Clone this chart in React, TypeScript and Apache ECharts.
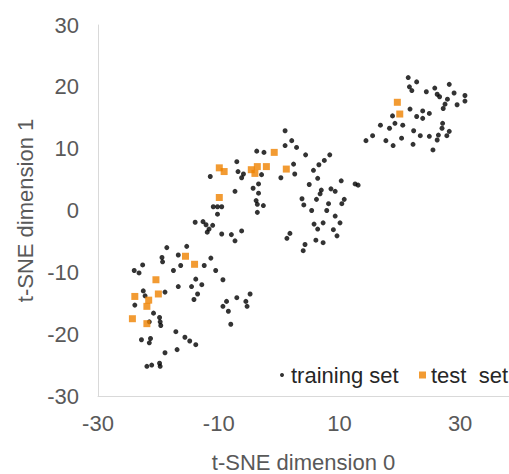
import React, { useEffect, useRef } from "react";
import * as echarts from "echarts";

// t-SNE embedding, grouped by cluster for readability
const trainingLowerLeft: number[][] = [
  [-18.6, -6.0], [-15.3, -5.8], [-19.4, -7.6], [-19.3, -8.3], [-16.7, -7.2], [-22.6, -8.8],
  [-24.0, -9.7], [-23.2, -10.1], [-17.5, -9.7], [-16.3, -8.9], [-12.4, -8.9], [-11.3, -7.7],
  [-10.5, -9.7], [-9.3, -11.2], [-13.8, -11.1], [-14.5, -12.3], [-12.8, -12.0], [-16.7, -12.3],
  [-13.5, -13.5], [-14.1, -14.4], [-22.5, -13.0], [-22.2, -13.8], [-18.9, -13.2], [-23.9, -15.3],
  [-20.8, -16.6], [-19.8, -17.3], [-19.7, -18.0], [-19.6, -18.6], [-21.5, -18.0], [-7.0, -14.1],
  [-4.8, -13.5], [-5.5, -14.7], [-5.3, -15.5], [-8.7, -14.7], [-9.3, -15.5], [-8.4, -16.3],
  [-8.0, -18.4], [-17.1, -19.6], [-15.6, -20.5], [-14.8, -21.1], [-13.8, -21.7], [-16.9, -22.5],
  [-18.9, -23.0], [-22.8, -20.9], [-21.3, -20.7], [-21.5, -21.4], [-21.9, -25.2], [-21.1, -25.0],
  [-19.8, -24.7], [-19.7, -25.2],
];

const trainingCentre: number[][] = [
  [1.0, 12.9], [2.1, 11.3], [2.9, 10.2], [1.0, 10.5], [-3.7, 9.6], [-2.5, 9.4], [-7.0, 7.9],
  [-6.8, 6.3], [-5.9, 5.9], [-6.2, 5.3], [-11.4, 5.5], [-2.9, 5.8], [2.4, 7.5], [2.6, 5.9],
  [0.3, 5.3], [5.0, 4.2], [-3.4, 4.3], [-4.3, 3.6], [-3.4, 2.8], [-7.3, 3.1], [-10.9, 0.6],
  [-10.2, 0.6], [-9.5, 0.6], [-10.2, -0.6], [-3.8, 1.6], [-3.6, 1.0], [-2.6, 0.8], [-3.6, -0.3],
  [3.8, 1.9], [4.1, 0.9], [-13.9, -1.9], [-12.6, -1.8], [-12.1, -2.3], [-11.0, -2.4],
  [-11.6, -3.0], [-11.9, -3.5], [-9.5, -3.8], [-7.9, -3.9], [-7.3, -4.9], [-6.2, -3.3],
  [1.3, -4.5], [1.8, -3.7], [4.3, -5.5],
];

const trainingRight: number[][] = [
  [4.4, 9.0], [8.4, 9.0], [7.5, 8.1], [6.6, 7.4], [5.7, 6.5], [6.4, 5.2], [10.3, 4.8],
  [12.6, 4.3], [13.1, 4.1], [7.0, 3.3], [6.8, 2.7], [8.6, 3.5], [9.3, 3.1], [6.2, 1.8],
  [5.4, 0.0], [8.2, 1.1], [7.9, 0.0], [10.8, 1.8], [10.4, 1.1], [9.3, -0.9], [10.1, -2.0],
  [5.8, -2.2], [6.4, -3.0], [7.3, -2.0], [9.0, -3.1], [9.6, -4.1], [6.1, -4.8], [7.3, -5.2],
  [4.0, -6.5],
];

const trainingUpperRight: number[][] = [
  [21.4, 21.5], [22.8, 20.8], [21.6, 20.0], [22.0, 19.4], [24.4, 19.2], [25.8, 19.8],
  [28.2, 20.4], [26.2, 18.8], [26.6, 18.4], [29.0, 19.0], [30.8, 18.6], [30.8, 17.7],
  [27.9, 18.0], [27.5, 17.2], [29.5, 17.1], [27.2, 16.5], [21.7, 16.4], [23.8, 16.1],
  [24.9, 15.7], [22.8, 15.2], [23.8, 14.9], [18.8, 15.3], [27.1, 14.1], [27.0, 13.3],
  [28.2, 12.8], [27.8, 12.1], [26.4, 12.2], [26.2, 11.4], [24.9, 12.0], [23.4, 12.1],
  [22.3, 12.9], [20.5, 13.8], [19.2, 14.1], [18.3, 13.3], [16.8, 13.8], [15.5, 12.1],
  [14.4, 11.3], [17.7, 11.3], [18.9, 10.5], [20.3, 11.7], [22.2, 10.7], [25.5, 9.8],
];

const testPoints: number[][] = [
  [-15.5, -7.4], [-14.0, -8.7], [-20.4, -11.2], [-23.9, -13.9], [-21.6, -14.5], [-20.0, -13.5],
  [-21.9, -15.5], [-24.3, -17.5], [-21.9, -18.3], [-0.8, 9.4], [-9.9, 6.9], [-9.1, 6.3],
  [-4.6, 6.6], [-3.6, 7.1], [-4.0, 6.0], [-2.1, 7.1], [1.2, 6.7], [-9.9, 2.1], [19.6, 17.5],
  [20.0, 15.6],
];

const trainingName = "training set";
const testName = "test  set";
const xAxisTitle = "t-SNE dimension 0";
const yAxisTitle = "t-SNE dimension 1";

const FONT = "'Liberation Sans', Arial, sans-serif";
const AXIS_TEXT = "#595959";
const AXIS_LINE = "#d9d9d9";
const ORANGE = "#EF8200";

export default function App() {
  const ref = useRef<HTMLDivElement>(null);

  useEffect(() => {
    if (!ref.current) return;
    document.body.style.margin = "0";
    const chart = echarts.init(ref.current, undefined, { renderer: "svg" });
    const training = [
      ...trainingLowerLeft,
      ...trainingCentre,
      ...trainingRight,
      ...trainingUpperRight,
    ];
    chart.setOption({
      animation: false,
      backgroundColor: "#ffffff",
      textStyle: { fontFamily: FONT },
      grid: { left: 98, right: 0, top: 25, bottom: 78, outerBoundsMode: "none" },
      legend: [
        {
          data: [{ name: trainingName, icon: "circle" }],
          left: 280,
          top: 364,
          padding: 0,
          itemWidth: 8,
          itemHeight: 4,
          textStyle: { color: "#262626", fontSize: 22, fontFamily: FONT },
        },
        {
          data: [{ name: testName, icon: "rect" }],
          left: 419,
          top: 364,
          padding: 0,
          itemWidth: 7,
          itemHeight: 7,
          textStyle: { color: "#262626", fontSize: 22, fontFamily: FONT },
        },
      ],
      xAxis: {
        type: "value",
        min: -30,
        max: 38.1,
        interval: 20,
        name: xAxisTitle,
        nameLocation: "middle",
        nameGap: 55,
        nameTextStyle: { color: AXIS_TEXT, fontSize: 22, fontFamily: FONT },
        axisLine: { show: true, onZero: false, lineStyle: { color: AXIS_LINE, width: 1 } },
        axisTick: { show: false },
        splitLine: { show: false },
        axisLabel: {
          color: AXIS_TEXT,
          fontSize: 22,
          fontFamily: FONT,
          margin: 16,
          showMaxLabel: false,
        },
      },
      yAxis: {
        type: "value",
        min: -30,
        max: 30,
        interval: 10,
        name: yAxisTitle,
        nameLocation: "middle",
        nameGap: 62,
        nameTextStyle: { color: AXIS_TEXT, fontSize: 22, fontFamily: FONT },
        axisLine: { show: true, onZero: false, lineStyle: { color: AXIS_LINE, width: 1 } },
        axisTick: { show: false },
        splitLine: { show: false },
        axisLabel: { color: AXIS_TEXT, fontSize: 22, fontFamily: FONT, margin: 19 },
      },
      series: [
        {
          name: trainingName,
          type: "scatter",
          data: training,
          symbol: "circle",
          symbolSize: 5,
          itemStyle: { color: "#000000" },
        },
        {
          name: testName,
          type: "scatter",
          data: testPoints,
          symbol: "rect",
          symbolSize: 7,
          itemStyle: { color: ORANGE },
        },
      ],
    });
    return () => chart.dispose();
  }, []);

  return <div ref={ref} style={{ width: 509, height: 474 }} />;
}
